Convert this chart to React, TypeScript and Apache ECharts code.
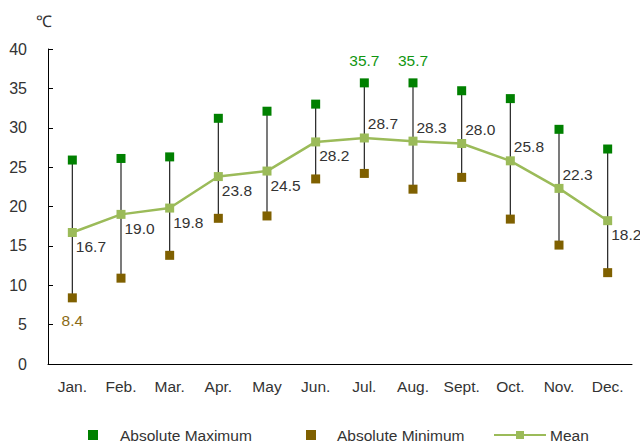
import React, { useEffect, useRef } from "react";
import * as echarts from "echarts";

const months = ["Jan.", "Feb.", "Mar.", "Apr.", "May", "Jun.", "Jul.", "Aug.", "Sept.", "Oct.", "Nov.", "Dec."];
const absMax = [25.9, 26.1, 26.3, 31.2, 32.1, 33.0, 35.7, 35.7, 34.7, 33.7, 29.8, 27.3];
const absMin = [8.4, 10.9, 13.8, 18.5, 18.8, 23.5, 24.2, 22.2, 23.7, 18.4, 15.1, 11.6];
const mean = [16.7, 19.0, 19.8, 23.8, 24.5, 28.2, 28.7, 28.3, 28.0, 25.8, 22.3, 18.2];
const meanLabelAbove = [false, false, false, false, false, false, true, true, true, true, true, false];
const maxLabelShown = [false, false, false, false, false, false, true, true, false, false, false, false];
const minLabelShown = [true, false, false, false, false, false, false, false, false, false, false, false];
const yTicks = { min: 0, max: 40, interval: 5 };

const FONT = "Liberation Sans, Arial, sans-serif";
const GREEN = "#008000";
const BROWN = "#7f6000";
const MEANC = "#9bbb59";

export default function App() {
  const ref = useRef<HTMLDivElement>(null);
  useEffect(() => {
    document.body.style.margin = "0";
    const chart = echarts.init(ref.current!, null, { renderer: "svg" });
    chart.setOption({
      animation: false,
      textStyle: { fontFamily: FONT },
      grid: { left: 48, right: 8, top: 49, bottom: 79 },
      legend: [
        {
          data: [{ name: "Absolute Maximum", icon: "rect" }],
          left: 83, top: 422, itemWidth: 10, itemHeight: 10,
          textStyle: { fontSize: 15.5, color: "#333", fontFamily: FONT, padding: [0, 0, 0, 17] },
        },
        {
          data: [{ name: "Absolute Minimum", icon: "rect" }],
          left: 301, top: 422, itemWidth: 10, itemHeight: 10,
          textStyle: { fontSize: 15.5, color: "#333", fontFamily: FONT, padding: [0, 0, 0, 16] },
        },
        {
          data: [{ name: "Mean" }],
          left: 488, top: 422, itemWidth: 52, itemHeight: 10,
          textStyle: { fontSize: 15.5, color: "#333", fontFamily: FONT, padding: [0, 0, 0, -1] },
        },
      ],
      xAxis: {
        type: "category",
        data: months,
        boundaryGap: true,
        axisLine: { lineStyle: { color: "#000", width: 1 } },
        axisTick: { inside: true, length: 5, lineStyle: { color: "#000" } },
        axisLabel: { fontSize: 15.5, color: "#333", margin: 14, fontFamily: FONT },
        splitLine: { show: false },
      },
      yAxis: {
        type: "value",
        min: yTicks.min,
        max: yTicks.max,
        interval: yTicks.interval,
        name: "℃",
        nameLocation: "end",
        nameGap: 20,
        nameTextStyle: { fontSize: 16, color: "#333", align: "center", padding: [0, 8, 0, 0], fontFamily: FONT },
        axisLine: { show: true, lineStyle: { color: "#000", width: 1 } },
        axisTick: { show: true, inside: true, length: 5, lineStyle: { color: "#000" } },
        axisLabel: { fontSize: 16, color: "#333", margin: 21, fontFamily: FONT },
        splitLine: { show: false },
      },
      series: [
        {
          type: "custom",
          name: "range",
          z: 1,
          data: months.map((_, i) => [i, absMax[i], absMin[i]]),
          renderItem: (params: any, api: any) => {
            const top = api.coord([api.value(0), api.value(1)]);
            const bot = api.coord([api.value(0), api.value(2)]);
            return {
              type: "line",
              shape: { x1: top[0], y1: top[1], x2: bot[0], y2: bot[1] },
              style: { stroke: "#222", lineWidth: 1.2 },
            };
          },
          silent: true,
        },
        {
          type: "line",
          name: "Mean",
          z: 3,
          data: mean.map((v, i) => ({
            value: v,
            label: {
              show: true,
              position: "right",
              distance: 0,
              offset: [-1, meanLabelAbove[i] ? -14 : 14],
            },
          })),
          symbol: "rect",
          symbolSize: 9,
          itemStyle: { color: MEANC },
          lineStyle: { color: MEANC, width: 2.5 },
          label: { fontSize: 15.5, color: "#333", fontFamily: FONT, formatter: (p: any) => Number(p.value).toFixed(1) },
        },
        {
          type: "scatter",
          name: "Absolute Maximum",
          z: 4,
          symbol: "rect",
          symbolSize: 9,
          itemStyle: { color: GREEN, opacity: 1 },
          data: absMax.map((v, i) => ({
            value: v,
            label: { show: maxLabelShown[i], position: "top", distance: 10 },
          })),
          label: { fontSize: 15.5, color: "#119611", fontFamily: FONT, formatter: (p: any) => Number(p.value).toFixed(1) },
        },
        {
          type: "scatter",
          name: "Absolute Minimum",
          z: 4,
          symbol: "rect",
          symbolSize: 9,
          itemStyle: { color: BROWN, opacity: 1 },
          data: absMin.map((v, i) => ({
            value: v,
            label: { show: minLabelShown[i], position: "bottom", distance: 10 },
          })),
          label: { fontSize: 15.5, color: "#8a6a16", fontFamily: FONT, formatter: (p: any) => Number(p.value).toFixed(1) },
        },
      ],
    });
    return () => chart.dispose();
  }, []);
  return <div ref={ref} style={{ width: 640, height: 443 }} />;
}
